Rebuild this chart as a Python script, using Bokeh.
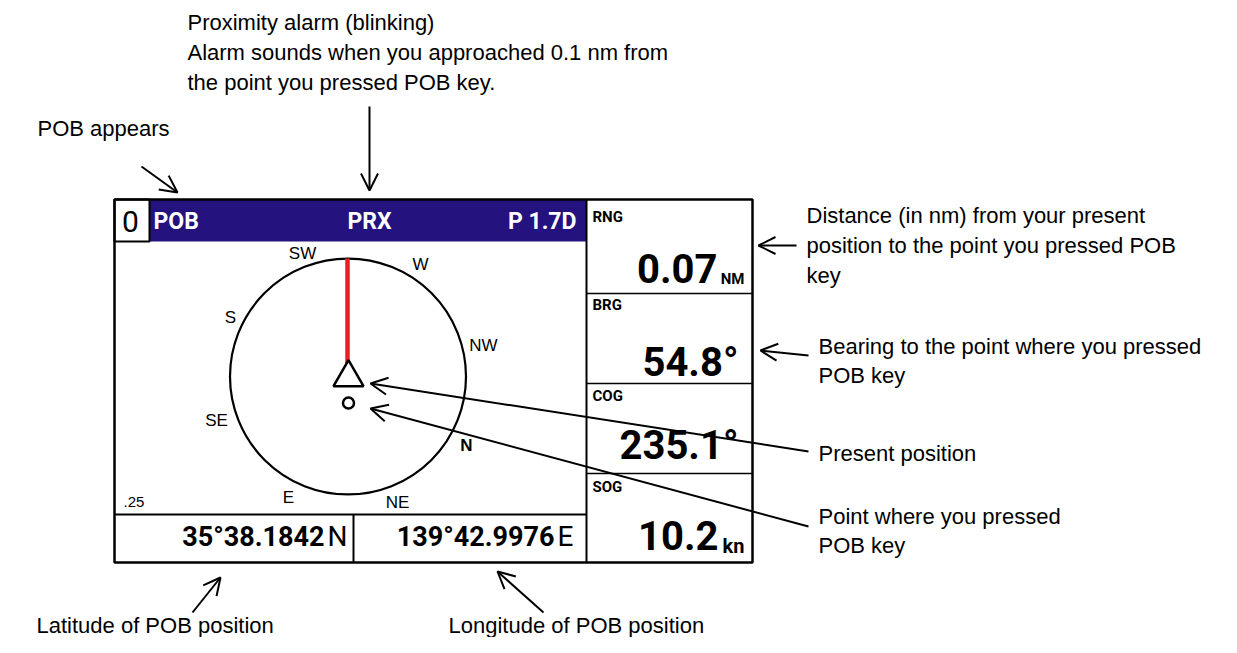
from bokeh.plotting import figure
from bokeh.models import Range1d, Arrow, OpenHead, ColumnDataSource
from bokeh.core.properties import value
from bokeh.embed import file_html
from bokeh.resources import INLINE

# ---- content ----
header_texts = ["POB", "PRX", "P 1.7D"]
screen_no = "0"
cell_labels = ["RNG", "BRG", "COG", "SOG"]
cell_values = ["0.07", "54.8°", "235.1°", "10.2"]
cell_units = ["NM", "kn"]
compass_labels = ["SW", "W", "S", "NW", "SE", "N", "E", "NE"]
scale_label = ".25"
lat_text, lat_hemi = "35°38.1842", "N"
lon_text, lon_hemi = "139°42.9976", "E"
note_top = ["Proximity alarm (blinking)",
            "Alarm sounds when you approached 0.1 nm from",
            "the point you pressed POB key."]
note_pob = "POB appears"
note_rng = ["Distance (in nm) from your present",
            "position to the point you pressed POB",
            "key"]
note_brg = ["Bearing to the point where you pressed", "POB key"]
note_pos = ["Present position"]
note_mob = ["Point where you pressed", "POB key"]
note_lat = "Latitude of POB position"
note_lon = "Longitude of POB position"

DISP = value("Roboto")
ARIAL = value("Liberation Sans")

p = figure(width=1221, height=637, x_range=Range1d(0, 1221), y_range=Range1d(637, 0),
           output_backend="svg", toolbar_location=None, min_border=0)
p.axis.visible = False
p.grid.visible = False
p.outline_line_color = None
p.background_fill_color = "white"

# ---- screen frame ----
L, R, T, B = 114, 752, 199, 562
C = 586          # divider between left panel and right column
HB = 241         # header bottom
LB = 514         # lat/lon row top
MID = 353        # lat/lon divider
rows = [199, 293, 383, 473, 562]

p.quad(left=[149], right=[C], top=[T], bottom=[HB], fill_color="#24127e", line_color=None)
p.quad(left=[L], right=[149], top=[T], bottom=[HB], fill_color="white", line_color="black", line_width=2)
p.quad(left=[L], right=[R], top=[T], bottom=[B], fill_color=None, line_color="black", line_width=2.5)
p.segment(x0=[C, L, MID], y0=[T, LB, LB], x1=[C, C, MID], y1=[B, LB, B], line_color="black", line_width=2)
p.segment(x0=[C] * 3, y0=rows[1:4], x1=[R] * 3, y1=rows[1:4], line_color="black", line_width=1.5)

# header texts
p.text(x=[130], y=[221], text=[screen_no], text_font=DISP, text_font_size="30px",
       text_align="center", text_baseline="middle", text_color="black")
p.text(x=[153, 369, 576], y=[221] * 3, text=header_texts, text_font=DISP, text_font_size="23px",
       text_font_style="bold", text_align=["left", "center", "right"], text_baseline="middle",
       text_color="white")

# right column
p.text(x=[592] * 4, y=[216, 304, 395, 486], text=cell_labels, text_font=DISP, text_font_size="15px",
       text_font_style="bold", text_baseline="middle", text_color="black")
p.text(x=[717, 738, 738, 718], y=[268, 362, 445, 535], text=cell_values, text_font=DISP,
       text_font_size="40px", text_font_style="bold", text_align="right",
       text_baseline="middle", text_color="black")
p.text(x=[744, 744], y=[278, 545], text=cell_units, text_font=DISP,
       text_font_size=["15px", "20px"], text_font_style="bold", text_align="right",
       text_baseline="middle", text_color="black")

# lat / lon
p.text(x=[324, 554], y=[536, 536], text=[lat_text, lon_text], text_font=DISP, text_font_size="27px",
       text_font_style="bold", text_align="right", text_baseline="middle", text_color="black")
p.text(x=[327, 557], y=[536, 536], text=[lat_hemi, lon_hemi], text_font=DISP, text_font_size="28px",
       text_align="left", text_baseline="middle", text_color="black")

# compass
p.circle(x=[347.5], y=[376], radius=118, fill_color=None, line_color="black", line_width=2.2)
p.segment(x0=[347], y0=[258], x1=[347], y1=[364], line_color="#ee1c24", line_width=4.5)
p.scatter(x=[348], y=[377], marker="triangle", size=30, fill_color="white", line_color="black",
          line_width=2.5)
p.scatter(x=[348], y=[402.5], marker="circle", size=11, fill_color="white", line_color="black",
          line_width=2.5)
cx = [302, 420, 230, 483, 216, 466, 288, 397]
cy = [253, 264, 317, 345, 420, 445, 497, 502]
p.text(x=cx, y=cy, text=compass_labels, text_font=ARIAL, text_font_size="17px",
       text_font_style=["normal"] * 5 + ["bold"] + ["normal"] * 2,
       text_align="center", text_baseline="middle", text_color="black")
p.text(x=[123], y=[501], text=[scale_label], text_font=ARIAL, text_font_size="15px",
       text_baseline="middle", text_color="black")

# ---- annotations ----
FS = "22px"
def block(x, y0, lines, dy=30):
    p.text(x=[x] * len(lines), y=[y0 + i * dy for i in range(len(lines))], text=lines,
           text_font=ARIAL, text_font_size=FS, text_baseline="middle", text_color="black")

block(187, 22, note_top)
block(37, 128, [note_pob])
block(806, 215, note_rng)
block(818, 346, note_brg, dy=29)
block(818, 453, note_pos)
block(818, 516, note_mob, dy=29)
block(36, 625, [note_lat])
block(448, 625, [note_lon])

arr = ColumnDataSource(dict(
    x0=[141, 369, 796, 808, 808, 808, 192, 543],
    y0=[166, 106, 245, 355, 451, 526, 612, 612],
    x1=[177, 369, 758, 760, 370, 370, 220, 497],
    y1=[192, 190, 245, 350, 383, 408, 577, 571],
))
p.add_layout(Arrow(source=arr, x_start="x0", y_start="y0", x_end="x1", y_end="y1",
                   line_color="black", line_width=2,
                   end=OpenHead(size=17, line_width=2, line_color="black")))

open("out.html", "w").write(file_html(p, INLINE))
